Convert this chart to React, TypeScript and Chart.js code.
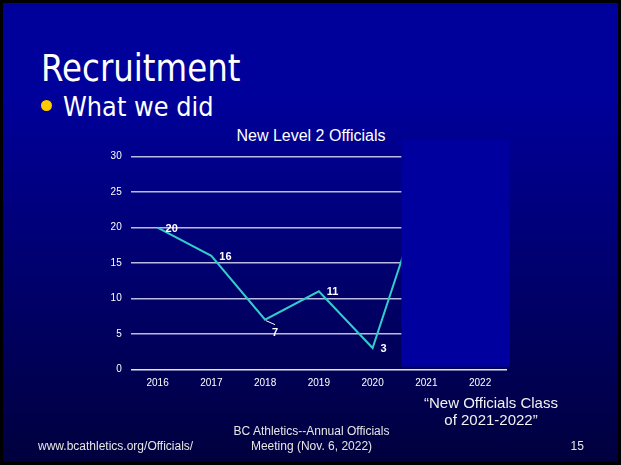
import { useEffect, useRef } from 'react';
import { Chart, registerables } from 'chart.js';

Chart.register(...registerables);

const FONT = '"Liberation Sans", Arial, sans-serif';
const SLIDE_FONT = '"DejaVu Sans", Verdana, sans-serif';

const years = ['2016', '2017', '2018', '2019', '2020', '2021', '2022'];
const officials: (number | null)[] = [20, 16, 7, 11, 3, 26, null];
const labelPlacement = ['right', 'right', 'below', 'right', 'right', 'right', 'right'];
const yMin = 0;
const yMax = 30;
const yStep = 5;

const chartTitle = 'New Level 2 Officials';
const slideTitle = 'Recruitment';
const bulletText = 'What we did';
const noteLines = ['\u201CNew Officials Class', 'of 2021-2022\u201D'];
const footerLeft = 'www.bcathletics.org/Officials/';
const footerCenter = ['BC Athletics--Annual Officials', 'Meeting (Nov. 6, 2022)'];
const footerRight = '15';

export default function App() {
  const ref = useRef<HTMLCanvasElement>(null);

  useEffect(() => {
    const overlay = {
      id: 'overlay',
      afterDatasetsDraw(chart: any) {
        const { ctx, scales } = chart;
        const x = scales.x;
        const y = scales.y;
        const meta = chart.getDatasetMeta(0);
        ctx.save();
        ctx.font = `bold 11px ${FONT}`;
        ctx.fillStyle = '#ffffff';
        ctx.strokeStyle = '#ffffff';
        ctx.lineWidth = 1;
        officials.forEach((v, i) => {
          if (v == null) return;
          const pt = meta.data[i];
          if (!pt) return;
          if (labelPlacement[i] === 'below') {
            ctx.beginPath();
            ctx.moveTo(pt.x + 1, pt.y + 1);
            ctx.lineTo(pt.x + 10, pt.y + 5);
            ctx.stroke();
            ctx.textAlign = 'center';
            ctx.textBaseline = 'middle';
            ctx.fillText(String(v), pt.x + 10, pt.y + 13.5);
          } else {
            ctx.textAlign = 'left';
            ctx.textBaseline = 'middle';
            ctx.fillText(String(v), pt.x + 8, pt.y + 1);
          }
        });
        // overlay box covering 2021-2022
        const step = x.getPixelForValue(1) - x.getPixelForValue(0);
        const left = x.getPixelForValue(4) + 0.535 * step;
        const right = x.getPixelForValue(6) + 0.55 * step;
        const top = y.getPixelForValue(32.5);
        const bottom = y.getPixelForValue(0.37);
        ctx.fillStyle = '#00009e';
        ctx.fillRect(left, top, right - left, bottom - top);
        ctx.restore();
      },
    };

    const chart = new Chart(ref.current as HTMLCanvasElement, {
      type: 'line',
      data: {
        labels: years,
        datasets: [
          {
            data: officials,
            borderColor: '#33cccc',
            borderWidth: 2,
            pointRadius: 0,
            tension: 0,
            fill: false,
          },
        ],
      },
      options: {
        animation: false,
        responsive: false,
        devicePixelRatio: 1,
        layout: { padding: { left: 90, right: 114, top: 156.7, bottom: 69.7 } },
        plugins: {
          legend: { display: false },
          title: { display: false },
          tooltip: { enabled: false },
        },
        scales: {
          x: {
            offset: true,
            grid: { display: false, drawTicks: false },
            border: { display: false },
            ticks: {
              color: '#ffffff',
              font: { size: 10, family: FONT },
              padding: 8,
              maxRotation: 0,
              autoSkip: false,
            },
            afterFit: (s: any) => {
              s.height = 26;
            },
          },
          y: {
            min: yMin,
            max: yMax,
            ticks: {
              stepSize: yStep,
              color: '#ffffff',
              font: { size: 10, family: FONT },
              padding: 9,
            },
            grid: {
              color: (c: any) => (c.tick && c.tick.value === 0 ? '#e4e4f4' : '#bcbce0'),
              lineWidth: 1.5,
              drawTicks: false,
            },
            border: { display: false },
            afterFit: (s: any) => {
              s.width = 40.7;
            },
          },
        },
      },
      plugins: [overlay],
    } as any);
    return () => chart.destroy();
  }, []);

  const txt = (extra: any) => ({
    position: 'absolute' as const,
    lineHeight: 1,
    whiteSpace: 'nowrap' as const,
    margin: 0,
    ...extra,
  });

  return (
    <div
      style={{
        position: 'fixed',
        left: 0,
        top: 0,
        width: 621,
        height: 465,
        background: '#000000',
        overflow: 'hidden',
      }}
    >
      <div
        style={{
          position: 'absolute',
          left: 3,
          top: 3,
          right: 3,
          bottom: 3,
          background: 'linear-gradient(to bottom, #00009a 0%, #00009a 21%, #00003e 100%)',
        }}
      />
      <div
        style={txt({
          left: 40.5,
          top: 50.6,
          fontFamily: SLIDE_FONT,
          fontSize: 36.9,
          color: '#ffffff',
          transform: 'scaleX(0.88)',
          transformOrigin: 'left top',
        })}
      >
        {slideTitle}
      </div>
      <div
        style={{
          position: 'absolute',
          left: 41,
          top: 100,
          width: 11,
          height: 11,
          borderRadius: '50%',
          background: '#ffcc00',
        }}
      />
      <div
        style={txt({
          left: 63,
          top: 93,
          fontFamily: SLIDE_FONT,
          fontSize: 27.4,
          color: '#ffffff',
          transform: 'scaleX(0.88)',
          transformOrigin: 'left top',
        })}
      >
        {bulletText}
      </div>
      <div
        style={txt({
          left: 211,
          width: 200,
          textAlign: 'center',
          top: 128.2,
          fontFamily: FONT,
          fontSize: 16,
          color: '#ffffff',
        })}
      >
        {chartTitle}
      </div>
      <canvas
        ref={ref}
        width={621}
        height={465}
        style={{ position: 'absolute', left: 0, top: 0, width: 621, height: 465, display: 'block' }}
      />
      {noteLines.map((t, i) => (
        <div
          key={t}
          style={txt({
            left: 391,
            width: 200,
            textAlign: 'center',
            top: 407.3 + i * 17 - 12.7,
            fontFamily: FONT,
            fontSize: 15,
            color: '#f2f2f2',
          })}
        >
          {t}
        </div>
      ))}
      <div
        style={txt({
          left: 38,
          top: 439.8,
          fontFamily: FONT,
          fontSize: 12,
          color: '#e6e6e6',
        })}
      >
        {footerLeft}
      </div>
      {footerCenter.map((t, i) => (
        <div
          key={t}
          style={txt({
            left: 211.5,
            width: 200,
            textAlign: 'center',
            top: 435 + i * 15 - 10.2,
            fontFamily: FONT,
            fontSize: 12,
            color: '#e6e6e6',
          })}
        >
          {t}
        </div>
      ))}
      <div
        style={txt({
          left: 570.5,
          top: 439.8,
          fontFamily: FONT,
          fontSize: 12,
          color: '#e6e6e6',
        })}
      >
        {footerRight}
      </div>
    </div>
  );
}
